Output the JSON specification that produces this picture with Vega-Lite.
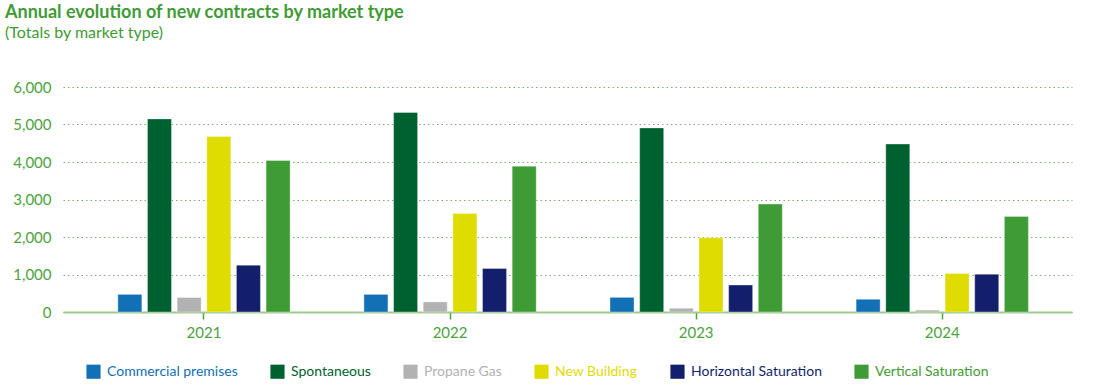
{
  "$schema": "https://vega.github.io/schema/vega-lite/v6.json",
  "autosize": "none",
  "width": 1009,
  "height": 225,
  "padding": {"left": 63, "top": 87, "right": 21, "bottom": 78},
  "title": {
    "text": "Annual evolution of new contracts by market type",
    "subtitle": "(Totals by market type)",
    "anchor": "start",
    "frame": "group",
    "dx": -58,
    "offset": 39,
    "font": "Lato",
    "fontSize": 18,
    "fontWeight": "bold",
    "color": "#3f9b35",
    "subtitleFont": "Lato",
    "subtitleFontSize": 16,
    "subtitleColor": "#3f9b35",
    "subtitlePadding": 3
  },
  "data": {
    "values": [
      {"year": "2021", "type": "Commercial premises", "value": 470},
      {"year": "2021", "type": "Spontaneous", "value": 5150},
      {"year": "2021", "type": "Propane Gas", "value": 390},
      {"year": "2021", "type": "New Building", "value": 4680},
      {"year": "2021", "type": "Horizontal Saturation", "value": 1250},
      {"year": "2021", "type": "Vertical Saturation", "value": 4040},
      {"year": "2022", "type": "Commercial premises", "value": 470},
      {"year": "2022", "type": "Spontaneous", "value": 5320},
      {"year": "2022", "type": "Propane Gas", "value": 270},
      {"year": "2022", "type": "New Building", "value": 2630},
      {"year": "2022", "type": "Horizontal Saturation", "value": 1160},
      {"year": "2022", "type": "Vertical Saturation", "value": 3890},
      {"year": "2023", "type": "Commercial premises", "value": 390},
      {"year": "2023", "type": "Spontaneous", "value": 4910},
      {"year": "2023", "type": "Propane Gas", "value": 100},
      {"year": "2023", "type": "New Building", "value": 1980},
      {"year": "2023", "type": "Horizontal Saturation", "value": 720},
      {"year": "2023", "type": "Vertical Saturation", "value": 2880},
      {"year": "2024", "type": "Commercial premises", "value": 340},
      {"year": "2024", "type": "Spontaneous", "value": 4480},
      {"year": "2024", "type": "Propane Gas", "value": 50},
      {"year": "2024", "type": "New Building", "value": 1030},
      {"year": "2024", "type": "Horizontal Saturation", "value": 1010},
      {"year": "2024", "type": "Vertical Saturation", "value": 2550}
    ]
  },
  "mark": {"type": "bar", "strokeWidth": 1, "strokeOpacity": 0.35, "stroke": "#ffffff"},
  "encoding": {
    "x": {
      "field": "year",
      "type": "nominal",
      "title": null,
      "scale": {"paddingInner": 0.3, "paddingOuter": 0.2, "align": 0.557},
      "axis": {
        "labelAngle": 0,
        "labelFont": "Lato",
        "labelFontSize": 15,
        "labelColor": "#4ca23e",
        "labelPadding": 6,
        "domainColor": "#9fc990",
        "domainWidth": 2,
        "tickColor": "#4ca23e",
        "tickSize": 7,
        "tickWidth": 1.5,
        "grid": false
      }
    },
    "xOffset": {
      "field": "type",
      "type": "nominal",
      "sort": ["Commercial premises", "Spontaneous", "Propane Gas", "New Building", "Horizontal Saturation", "Vertical Saturation"],
      "scale": {"paddingInner": 0.19, "paddingOuter": 0}
    },
    "y": {
      "field": "value",
      "type": "quantitative",
      "title": null,
      "scale": {"domain": [0, 6000]},
      "axis": {
        "values": [0, 1000, 2000, 3000, 4000, 5000, 6000],
        "format": ",d",
        "domain": false,
        "ticks": false,
        "labelFont": "Lato",
        "labelFontSize": 15,
        "labelColor": "#4ca23e",
        "labelPadding": 12,
        "gridColor": "#5fb34f",
        "gridDash": [1.5, 3],
        "gridWidth": 1,
        "gridOpacity": 0.9
      }
    },
    "color": {
      "field": "type",
      "type": "nominal",
      "sort": ["Commercial premises", "Spontaneous", "Propane Gas", "New Building", "Horizontal Saturation", "Vertical Saturation"],
      "scale": {
        "domain": ["Commercial premises", "Spontaneous", "Propane Gas", "New Building", "Horizontal Saturation", "Vertical Saturation"],
        "range": ["#1170b6", "#006130", "#b2b2b3", "#dedc00", "#131f6b", "#3f9b35"]
      },
      "legend": {
        "title": null,
        "orient": "none",
        "direction": "horizontal",
        "legendX": 23,
        "legendY": 277,
        "symbolType": "square",
        "symbolSize": 200,
        "symbolStrokeWidth": 0,
        "labelFont": "Lato",
        "labelFontSize": 14,
        "labelColor": {"expr": "scale('color', datum.value)"},
        "labelOffset": 6,
        "columnPadding": 32
      }
    }
  },
  "config": {
    "view": {"stroke": null}
  }
}
